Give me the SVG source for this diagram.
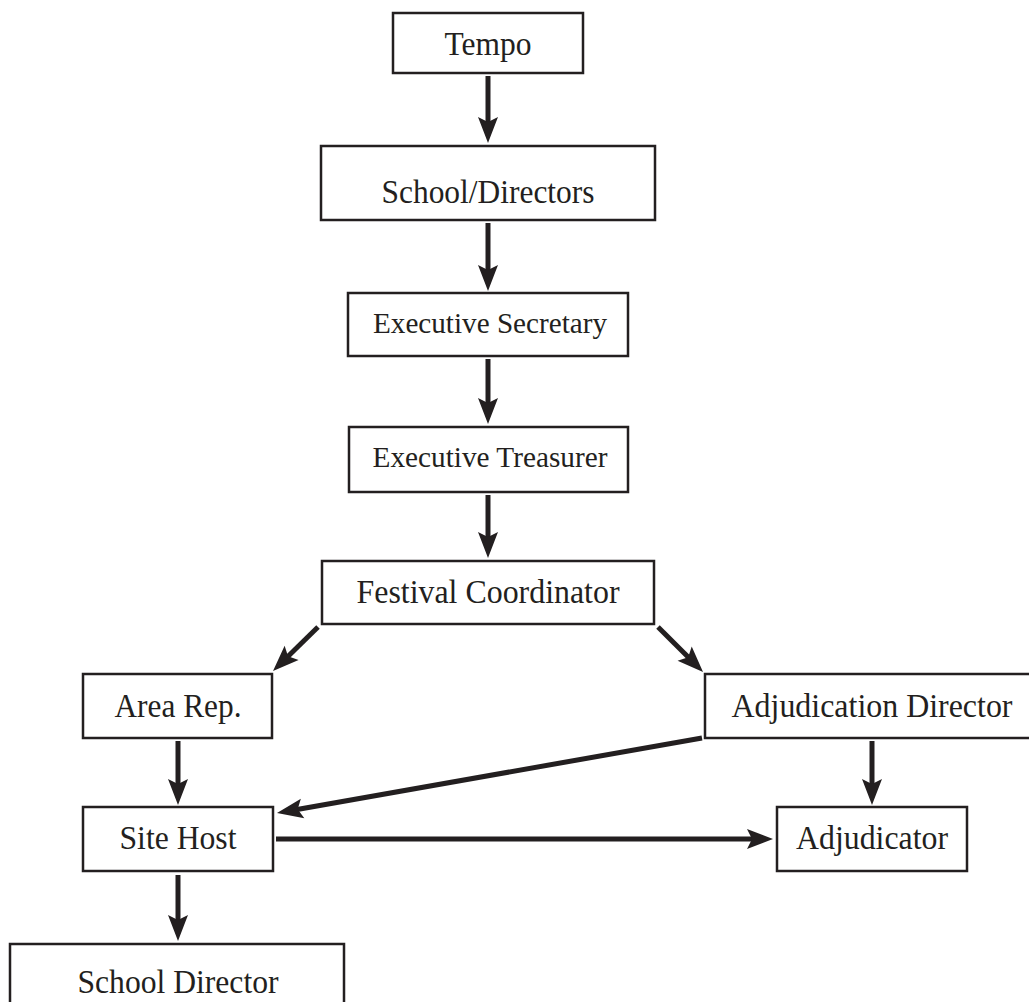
<svg xmlns="http://www.w3.org/2000/svg" width="1029" height="1002" viewBox="0 0 1029 1002">
<style>
.box{fill:#fff;stroke:#231f20;stroke-width:2.5}
.lbl{font-family:"Liberation Serif","Times New Roman",serif;font-size:33px;fill:#231f20;text-anchor:middle}
.sm{font-size:30px}
.conn{stroke:#231f20;stroke-width:5;fill:none;marker-end:url(#ah)}
</style>
<defs>
<marker id="ah" markerUnits="userSpaceOnUse" viewBox="-2 -11 30 22" refX="7" refY="0" markerWidth="30" markerHeight="22" orient="auto">
<path d="M26,0 L0,-10 L5,0 L0,10 Z" fill="#231f20"/>
</marker>
</defs>
<rect width="1029" height="1002" fill="#fff"/>
<g id="connectors">
<line class="conn" x1="488" y1="76" x2="488" y2="124"/>
<line class="conn" x1="488" y1="223" x2="488" y2="272"/>
<line class="conn" x1="488" y1="359" x2="488" y2="405"/>
<line class="conn" x1="488" y1="495" x2="488" y2="539"/>
<line class="conn" x1="318" y1="627" x2="286.6" y2="657.7"/>
<line class="conn" x1="658" y1="627" x2="689.6" y2="658.6"/>
<line class="conn" x1="178" y1="741" x2="178" y2="786"/>
<line class="conn" x1="178" y1="875" x2="178" y2="922"/>
<line class="conn" x1="872" y1="741" x2="872" y2="786"/>
<line class="conn" x1="276" y1="839" x2="754" y2="839"/>
<line class="conn" x1="702" y1="738" x2="295.7" y2="809.7"/>
</g>
<g id="tempo"><rect class="box" x="393" y="13" width="190" height="60"/><text class="lbl" x="488" y="55" textLength="87" lengthAdjust="spacingAndGlyphs">Tempo</text></g>
<g id="school-directors"><rect class="box" x="321" y="146" width="334" height="74"/><text class="lbl" x="488" y="203" textLength="213" lengthAdjust="spacingAndGlyphs">School/Directors</text></g>
<g id="executive-secretary"><rect class="box" x="348" y="293" width="280" height="63"/><text class="lbl sm" x="490" y="333" textLength="234" lengthAdjust="spacingAndGlyphs">Executive Secretary</text></g>
<g id="executive-treasurer"><rect class="box" x="349" y="427" width="279" height="65"/><text class="lbl sm" x="490" y="467" textLength="235" lengthAdjust="spacingAndGlyphs">Executive Treasurer</text></g>
<g id="festival-coordinator"><rect class="box" x="322" y="561" width="332" height="63"/><text class="lbl" x="488" y="603" textLength="263" lengthAdjust="spacingAndGlyphs">Festival Coordinator</text></g>
<g id="area-rep"><rect class="box" x="83" y="674" width="189" height="64"/><text class="lbl" x="178" y="717" textLength="127" lengthAdjust="spacingAndGlyphs">Area Rep.</text></g>
<g id="adjudication-director"><rect class="box" x="705" y="674" width="334" height="64"/><text class="lbl" x="872" y="717" textLength="281" lengthAdjust="spacingAndGlyphs">Adjudication Director</text></g>
<g id="site-host"><rect class="box" x="83" y="807" width="190" height="64"/><text class="lbl" x="178" y="849" textLength="117" lengthAdjust="spacingAndGlyphs">Site Host</text></g>
<g id="adjudicator"><rect class="box" x="777" y="807" width="190" height="64"/><text class="lbl" x="872" y="849" textLength="152" lengthAdjust="spacingAndGlyphs">Adjudicator</text></g>
<g id="school-director"><rect class="box" x="10" y="944" width="334" height="70"/><text class="lbl" x="178" y="993" textLength="201" lengthAdjust="spacingAndGlyphs">School Director</text></g>
</svg>
